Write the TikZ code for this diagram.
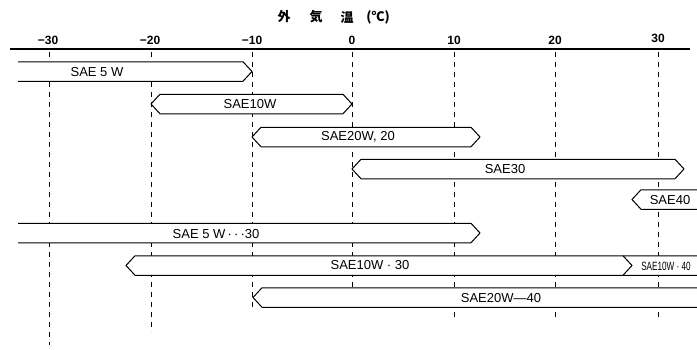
\documentclass[tikz,border=0pt]{standalone}
\usepackage{fontspec}
\usepackage{graphicx}
\setmainfont{Liberation Sans}
\newfontfamily\cjk{Noto Sans CJK JP}
\newcommand\barTT[4]{% name, y, x1 (tip), x2 (tip)
  \filldraw[barline] (#3+9,#2-9.75) -- (#4-9,#2-9.75) -- (#4,#2) -- (#4-9,#2+9.75) -- (#3+9,#2+9.75) -- (#3,#2) -- cycle;}
\newcommand\barOT[4]{% name, y, x1 (open), x2 (tip)
  \fill[white] (#3,#2-9.75) -- (#4-9,#2-9.75) -- (#4,#2) -- (#4-9,#2+9.75) -- (#3,#2+9.75) -- cycle;
  \draw[barline] (#3,#2-9.75) -- (#4-9,#2-9.75) -- (#4,#2) -- (#4-9,#2+9.75) -- (#3,#2+9.75);}
\newcommand\barTO[4]{% name, y, x1 (tip), x2 (open)
  \fill[white] (#4,#2-9.75) -- (#3+9,#2-9.75) -- (#3,#2) -- (#3+9,#2+9.75) -- (#4,#2+9.75) -- cycle;
  \draw[barline] (#4,#2-9.75) -- (#3+9,#2-9.75) -- (#3,#2) -- (#3+9,#2+9.75) -- (#4,#2+9.75);}
\begin{document}
\begin{tikzpicture}[x=1pt,y=-1pt,
  grid/.style={line width=0.9pt, dash pattern=on 5pt off 5pt},
  barline/.style={line width=1pt, fill=white},
  lbl/.style={font=\fontsize{13}{14}\selectfont, inner sep=0pt},
  small/.style={font=\fontsize{12}{13}\selectfont, inner sep=0pt},
  tick/.style={font=\bfseries\fontsize{12}{13}\selectfont, inner sep=0pt},
  ttl/.style={font=\cjk\bfseries\fontsize{13}{14}\selectfont, inner sep=0pt}]
\useasboundingbox (0,0) rectangle (697,349);
% title
\node[ttl] (t1) at (284,17) {外};
\node[ttl] (t2) at (316,17) {気};
\node[ttl] (t3) at (347,17) {温};
\node[ttl] (t4) at (378,17) {(℃)};
% tick labels
\node[tick] (k1) at (48,40) {−30};
\node[tick] (k2) at (150,40) {−20};
\node[tick] (k3) at (252,40) {−10};
\node[tick] (k4) at (352,40) {0};
\node[tick] (k5) at (454,40) {10};
\node[tick] (k6) at (555,40) {20};
\node[tick] (k7) at (658,38) {30};
% axis
\draw[line width=1.5pt] (10,49) -- (690,49);
% grid lines
\draw[grid] (49,52) -- (49,345);
\draw[grid] (151,52) -- (151,332);
\draw[grid] (252,52) -- (252,310);
\draw[grid] (352,52) -- (352,290);
\draw[grid] (454,52) -- (454,318);
\draw[grid] (555,52) -- (555,318);
\draw[grid] (658,52) -- (658,318);
% bars
\barOT{b1}{71.5}{18}{252}
\barTT{b2}{104}{151}{352}
\barTT{b3}{137}{252}{480}
\barTT{b4}{169}{352}{684}
\barTO{b5}{199.5}{632}{697}
\barOT{b6}{233}{18}{480}
\barTO{b7}{265.5}{126}{697}
\draw[barline] (623,255.75) -- (632,265.5) -- (623,275.25);
\barTO{b8}{297.5}{253}{697}
% labels
\node[lbl] (l1) at (97,72.5) {SAE 5 W};
\node[lbl] (l2) at (250,104) {SAE10W};
\node[lbl] (l3) at (358,137) {SAE20W, 20};
\node[lbl] (l4) at (505,169) {SAE30};
\node[lbl] (l5) at (670,200) {SAE40};
\node[lbl] (l6) at (216,234) {SAE 5 W\,·\,·\,·30};
\node[lbl] (l7) at (370,265.5) {SAE10W · 30};
\node[small] (l8) at (666,266) {\scalebox{0.68}[1]{SAE10W · 40}};
\node[lbl] (l9) at (501,298) {SAE20W—40};
\end{tikzpicture}
\end{document}
